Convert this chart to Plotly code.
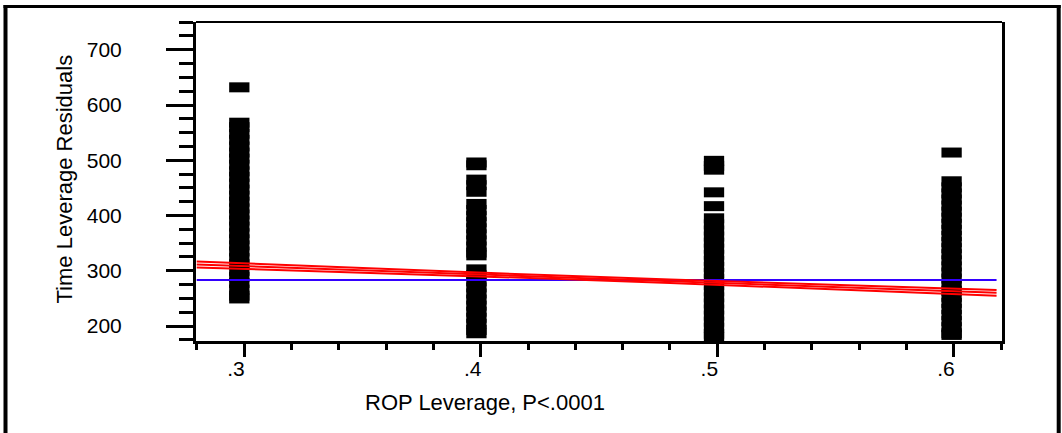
import plotly.graph_objects as go

# ---- data ----
group_x = [0.298, 0.3982, 0.4986, 0.599]

resid_03 = [632, 568, 560, 548, 537, 525, 514, 503, 492, 480, 470, 458, 447, 436,
            425, 413, 402, 391, 380, 368, 357, 346, 335, 323, 312, 300, 289, 278,
            266, 255, 250]
resid_04 = [496, 491, 465, 455, 443, 421, 410, 399, 388, 377, 366, 355, 344, 333,
            328, 302.6, 292, 281, 270, 259, 248, 237, 226, 215, 204, 193, 187]
resid_05 = [499, 490, 483, 442, 417, 395, 384, 373, 362, 351, 340, 329, 318, 307,
            296, 285, 274, 263, 252, 241, 230, 219, 208, 197, 186, 180]
resid_06 = [514, 462, 451, 440, 429, 418, 407, 396, 385, 374, 363, 352, 341, 330,
            319, 308, 297, 286, 275, 264, 253, 242, 231, 220, 209, 198, 187, 184]
residual_groups = [resid_03, resid_04, resid_05, resid_06]

fit_x = [0.28, 0.33, 0.38, 0.43, 0.48, 0.53, 0.58, 0.618]
fit_y = [311.5, 303.9, 296.3, 288.7, 281.1, 273.5, 265.9, 260.1]
upper_y = [316.8, 308.2, 299.8, 291.8, 284.2, 277.0, 270.2, 265.2]
lower_y = [306.2, 299.6, 292.8, 285.6, 278.0, 270.0, 261.6, 255.0]

mean_x = [0.28, 0.618]
mean_y = [283.5, 283.5]

x_tickvals = [0.3, 0.4, 0.5, 0.6]
x_ticktext = [".3", ".4", ".5", ".6"]
y_tickvals = [200, 300, 400, 500, 600, 700]
y_ticktext = ["200", "300", "400", "500", "600", "700"]

x_title = "ROP Leverage, P<.0001"
y_title = "Time Leverage Residuals"

# ---- figure ----
W, H = 1062, 433
L, R, T, B = 196, 1002, 22, 341
FONT = "Liberation Sans, Arial, sans-serif"

fig = go.Figure()

for gx, vals in zip(group_x, residual_groups):
    fig.add_trace(go.Scatter(
        x=[gx] * len(vals), y=vals, mode="markers",
        marker=dict(symbol="line-ew", size=14.5, color="black",
                    line=dict(width=10, color="black")),
        showlegend=False, hoverinfo="skip"))

fig.add_trace(go.Scatter(x=mean_x, y=mean_y, mode="lines",
                         line=dict(color="#3300ff", width=2), showlegend=False))
for yy in (upper_y, fit_y, lower_y):
    fig.add_trace(go.Scatter(x=fit_x, y=yy, mode="lines",
                             line=dict(color="#ff0000", width=2), showlegend=False))

def px_to_paper_x(px):
    return (px - L) / (R - L)

def px_to_paper_y(py):
    return (B - py) / (B - T)

shapes = [
    # outer frame (left, top, right)
    dict(type="line", xref="paper", yref="paper",
         x0=px_to_paper_x(5.5), x1=px_to_paper_x(5.5),
         y0=px_to_paper_y(440), y1=px_to_paper_y(5), line=dict(color="black", width=4)),
    dict(type="line", xref="paper", yref="paper",
         x0=px_to_paper_x(3.5), x1=px_to_paper_x(1060.7),
         y0=px_to_paper_y(6.5), y1=px_to_paper_y(6.5), line=dict(color="black", width=3)),
    dict(type="line", xref="paper", yref="paper",
         x0=px_to_paper_x(1058.7), x1=px_to_paper_x(1058.7),
         y0=px_to_paper_y(440), y1=px_to_paper_y(5), line=dict(color="black", width=4)),
    # thin top border of the plot frame
    dict(type="line", xref="paper", yref="paper",
         x0=0, x1=1.0, y0=1, y1=1, line=dict(color="black", width=2)),
]

annotations = [
    dict(text=y_title, xref="paper", yref="paper",
         x=px_to_paper_x(64), y=px_to_paper_y(179.5), textangle=-90,
         xanchor="center", yanchor="middle", showarrow=False,
         font=dict(family=FONT, size=22, color="black")),
    dict(text=x_title, xref="paper", yref="paper",
         x=px_to_paper_x(485), y=px_to_paper_y(403),
         xanchor="center", yanchor="middle", showarrow=False,
         font=dict(family=FONT, size=22, color="black")),
]

fig.update_layout(
    width=W, height=H,
    margin=dict(l=L, r=W - R, t=T, b=H - B, pad=0),
    paper_bgcolor="white", plot_bgcolor="white",
    font=dict(family=FONT, size=21, color="black"),
    shapes=shapes, annotations=annotations,
    showlegend=False,
    xaxis=dict(range=[0.2797, 0.6203], tickvals=x_tickvals, ticktext=x_ticktext,
               showgrid=False, zeroline=False, showline=True, linewidth=3,
               linecolor="black", ticks="outside", ticklen=13, tickwidth=3,
               tickcolor="black", ticklabelshift=-8, ticklabelstandoff=-6,
               minor=dict(dtick=0.02, tick0=0.28, ticks="outside", ticklen=6,
                          tickwidth=3, tickcolor="black", showgrid=False)),
    yaxis=dict(range=[173, 750.2], tickvals=y_tickvals, ticktext=y_ticktext,
               showgrid=False, zeroline=False, showline=True, linewidth=3,
               linecolor="black", mirror=True, ticks="outside", ticklen=27,
               tickwidth=3, tickcolor="black", ticklabelstandoff=40,
               minor=dict(dtick=25, tick0=0, ticks="outside", ticklen=14,
                          tickwidth=3, tickcolor="black", showgrid=False)),
)

fig.write_html("out.html")
